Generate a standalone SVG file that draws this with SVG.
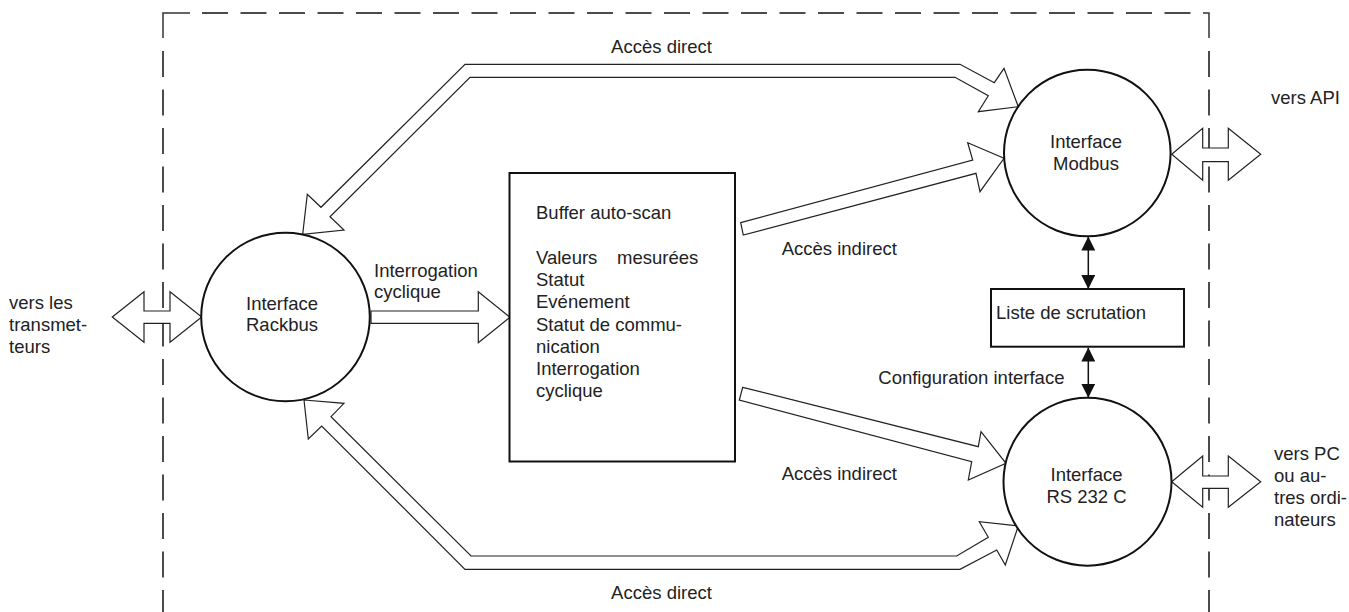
<svg xmlns="http://www.w3.org/2000/svg" width="1349" height="612" viewBox="0 0 1349 612">
<style>
text{font-family:"Liberation Sans",Arial,sans-serif;font-size:18.5px;fill:#222}
.mid{text-anchor:middle}
.node{fill:#fff;stroke:#111;stroke-width:2}
.hollow{fill:#fff;stroke:#222;stroke-width:1.2;stroke-linejoin:miter}
.dash{fill:none;stroke:#111;stroke-width:1.5;stroke-dasharray:26 12.5}
.solid{fill:none;stroke:#333;stroke-width:1.5}
.thin{stroke:#111;stroke-width:1.5;fill:none}
</style>
<defs>
<marker id="ah" viewBox="0 0 14 14" refX="14" refY="7" markerWidth="14" markerHeight="14" markerUnits="userSpaceOnUse" orient="auto-start-reverse">
<path d="M0,0 L14,7 L0,14 Z" fill="#111"/>
</marker>
</defs>
<g id="boundary">
<path class="solid" d="M163,38 V13 H190"/>
<path class="dash" d="M163,51 V612"/>
<path class="dash" d="M202,13 H1192"/>
<path class="solid" d="M1203,13 H1209 V38"/>
<path class="dash" d="M1209,51 V612"/>
</g>
<g id="connectors">
<polygon class="hollow" points="302.7,234.3 307.3,194.3 321,207.3 465,64.3 960,64.3 994.3,82.7 1004,68.3 1018.3,106.7 978.3,111.7 988.3,95.7 955,77.3 470,77.3 330,216.7 344,230"/>
<polygon class="hollow" points="304,400 344,403.3 331,416.7 471,556 956.7,556 988.3,537.3 979.3,521.7 1018.3,526 1005.3,565 996.7,550 960,569.3 465,569.3 321.7,426 308.3,439"/>
<polygon class="hollow" points="740.7,222.7 972.7,160 967.7,142.7 1004,158.3 980,191.7 976,173.3 743.3,235"/>
<polygon class="hollow" points="742.7,387.3 978.3,446.7 981,431.7 1006,463.3 968.3,480 971.7,461.7 739.3,400"/>
<polygon class="hollow" points="371,311 478.3,311 478.3,291.7 510,317.3 478.3,342.7 478.3,323.3 371,323.3"/>
<polygon class="hollow" points="112.3,317 144,291.7 144,311 170,311 170,291.7 201.7,317 170,342.3 170,323.3 144,323.3 144,342.3"/>
<polygon class="hollow" points="1171.7,154.3 1202.7,128.3 1202.7,148 1228.3,148 1228.3,128.3 1260.7,154.3 1228.3,180.3 1228.3,161.7 1202.7,161.7 1202.7,180.3"/>
<polygon class="hollow" points="1171.7,481.7 1202.7,456 1202.7,476 1228.3,476 1228.3,456 1260.7,481.7 1228.3,507.3 1228.3,488.3 1202.7,488.3 1202.7,507.3"/>
<line class="thin" x1="1088.3" y1="236.5" x2="1088.3" y2="289" marker-start="url(#ah)" marker-end="url(#ah)"/>
<line class="thin" x1="1088.3" y1="347.5" x2="1088.3" y2="397.7" marker-start="url(#ah)" marker-end="url(#ah)"/>
<text x="661.5" y="53" class="mid">Accès direct</text>
<text x="661.5" y="599" class="mid">Accès direct</text>
<text x="781.7" y="255">Accès indirect</text>
<text x="781.7" y="480">Accès indirect</text>
<text x="374" y="276.7">Interrogation</text>
<text x="374" y="298">cyclique</text>
<text x="878.3" y="384.3">Configuration interface</text>
<text x="9" y="309.3">vers les</text>
<text x="9" y="331.3">transmet-</text>
<text x="9" y="353.3">teurs</text>
<text x="1271" y="104">vers API</text>
<text x="1274" y="459.5">vers PC</text>
<text x="1274" y="481.7">ou au-</text>
<text x="1274" y="504">tres ordi-</text>
<text x="1274" y="525.5">nateurs</text>
</g>
<g id="rackbus">
<circle class="node" cx="285.5" cy="317" r="84.3"/>
<text x="282" y="310" class="mid">Interface</text>
<text x="282" y="331" class="mid">Rackbus</text>
</g>
<g id="buffer">
<rect class="node" x="509.5" y="173" width="225.5" height="288.5"/>
<text x="536" y="219">Buffer auto-scan</text>
<text x="536" y="263.5">Valeurs</text>
<text x="617" y="263.5">mesurées</text>
<text x="536" y="285.7">Statut</text>
<text x="536" y="307.5">Evénement</text>
<text x="536" y="330.5">Statut de commu-</text>
<text x="536" y="352.5">nication</text>
<text x="536" y="374.5">Interrogation</text>
<text x="536" y="396.7">cyclique</text>
</g>
<g id="modbus">
<circle class="node" cx="1087.3" cy="153" r="83.3"/>
<text x="1086" y="147.7" class="mid">Interface</text>
<text x="1086" y="170" class="mid">Modbus</text>
</g>
<g id="liste">
<rect class="node" x="991" y="289" width="193" height="57.7"/>
<text x="996" y="319.3">Liste de scrutation</text>
</g>
<g id="rs232">
<circle class="node" cx="1087.5" cy="481.7" r="84"/>
<text x="1086.5" y="481" class="mid">Interface</text>
<text x="1086.5" y="502.7" class="mid">RS 232 C</text>
</g>
</svg>
